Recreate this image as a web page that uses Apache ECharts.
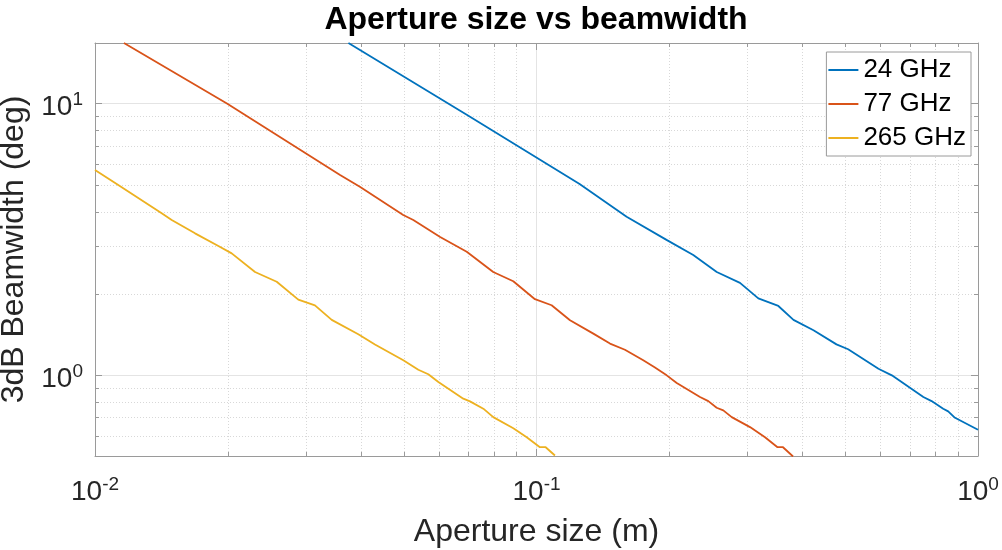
<!DOCTYPE html>
<html>
<head>
<meta charset="utf-8">
<title>Aperture size vs beamwidth</title>
<script src="https://cdn.jsdelivr.net/npm/echarts@6/dist/echarts.min.js"></script>
<style>
    html, body { margin: 0; padding: 0; background: #fff; }
    #main { width: 1002px; height: 550px; }
</style>
</head>
<body>
<div id="main"></div>
<script>
// aperture size (m) and 3dB beamwidth (deg)
var size24 = [0.0375, 0.0695, 0.1252, 0.160, 0.197, 0.2265, 0.256, 0.289, 0.318, 0.353, 0.382, 0.424, 0.478, 0.508, 0.595, 0.638, 0.752, 0.785, 0.834, 0.856, 0.887, 1.0];
var bw24 = [16.7, 9.09, 5.06, 3.83, 3.15, 2.77, 2.40, 2.19, 1.92, 1.80, 1.60, 1.465, 1.30, 1.247, 1.058, 1.0, 0.832, 0.804, 0.754, 0.737, 0.698, 0.631];

var size77 = [0.01163, 0.0199, 0.0359, 0.0398, 0.0499, 0.0526, 0.0605, 0.0695, 0.0798, 0.0886, 0.0992, 0.1082, 0.1191, 0.1345, 0.1467, 0.1586, 0.1745, 0.1855, 0.1972, 0.2078, 0.2346, 0.2450, 0.2559, 0.2649, 0.2768, 0.3045, 0.3293, 0.3515, 0.3617, 0.3811];
var bw77 = [16.7, 10.0, 5.46, 4.94, 3.89, 3.73, 3.23, 2.85, 2.40, 2.22, 1.906, 1.811, 1.595, 1.424, 1.309, 1.242, 1.136, 1.068, 1.0, 0.937, 0.832, 0.804, 0.760, 0.743, 0.702, 0.645, 0.592, 0.544, 0.544, 0.503];

var size265 = [0.0100, 0.01129, 0.01416, 0.01492, 0.01685, 0.01903, 0.0204, 0.02304, 0.0258, 0.02887, 0.03149, 0.03437, 0.03948, 0.04306, 0.04993, 0.05399, 0.05688, 0.05994, 0.06826, 0.07069, 0.07578, 0.07981, 0.08861, 0.09502, 0.1018, 0.1049, 0.1101];
var bw265 = [5.70, 5.02, 3.95, 3.73, 3.33, 2.99, 2.81, 2.40, 2.21, 1.90, 1.81, 1.60, 1.416, 1.298, 1.136, 1.049, 1.009, 0.945, 0.821, 0.802, 0.754, 0.702, 0.639, 0.592, 0.544, 0.544, 0.507];

var seriesNames = ['24 GHz', '77 GHz', '265 GHz'];
var seriesColors = ['#0072BD', '#D95319', '#EDB120'];

var xRange = [0.01, 1];
var yRange = [0.505, 16.7];
// minor (unlabelled) log ticks
var xMinor = [0.02, 0.03, 0.04, 0.05, 0.06, 0.07, 0.08, 0.09, 0.2, 0.3, 0.4, 0.5, 0.6, 0.7, 0.8, 0.9];
var yMinor = [0.6, 0.7, 0.8, 0.9, 2, 3, 4, 5, 6, 7, 8, 9];

var FONT = '"Liberation Sans", Arial, Helvetica, sans-serif';
var AXIS = '#9a9a9a';
var TEXT = '#262626';

var chart = echarts.init(document.getElementById('main'));

function pairs(xs, ys) {
    return xs.map(function(x, i) { return [x, ys[i]]; });
}

// only decades get a label, as 10^n
function decadeLabel(v) {
    var e = Math.log10(v);
    if (Math.abs(e - Math.round(e)) > 1e-6) {
        return '';
    }
    return '{b|10}{s|' + Math.round(e) + '}';
}

var labelRich = {
    b: { fontFamily: FONT, fontSize: 28, lineHeight: 34, color: TEXT },
    s: { fontFamily: FONT, fontSize: 19, lineHeight: 19, verticalAlign: 'top', color: TEXT }
};

function makeAxis(range, pos, labelled) {
    return {
        type: 'log',
        logBase: 10,
        min: range[0],
        max: range[1],
        position: pos,
        axisLine: { show: true, lineStyle: { color: AXIS, width: 1 } },
        axisTick: { show: true, inside: true, length: 7, lineStyle: { color: AXIS } },
        minorTick: { show: false },
        minorSplitLine: { show: false },
        axisLabel: labelled ? {
            show: true,
            formatter: decadeLabel,
            rich: labelRich,
            margin: 19
        } : { show: false },
        splitLine: { show: labelled, lineStyle: { color: '#e4e4e4', width: 1 } }
    };
}

var xBottom = makeAxis(xRange, 'bottom', true);
xBottom.name = 'Aperture size (m)';
xBottom.nameLocation = 'middle';
xBottom.nameGap = 60;
xBottom.nameTextStyle = { fontFamily: FONT, fontSize: 32, color: TEXT };

var yLeft = makeAxis(yRange, 'left', true);
yLeft.name = '3dB Beamwidth (deg)';
yLeft.nameLocation = 'middle';
yLeft.nameGap = 55;
yLeft.nameTextStyle = { fontFamily: FONT, fontSize: 32, color: TEXT };
yLeft.axisLabel.margin = 12;
yLeft.axisLabel.padding = [8, 0, 0, 0];

var allSizes = [size24, size77, size265];
var allBw = [bw24, bw77, bw265];

var series = seriesNames.map(function(name, i) {
    return {
        name: name,
        type: 'line',
        xAxisIndex: 0,
        yAxisIndex: 0,
        data: pairs(allSizes[i], allBw[i]),
        showSymbol: false,
        symbol: 'none',
        clip: true,
        lineStyle: { width: 1.8, color: seriesColors[i] },
        itemStyle: { color: seriesColors[i] }
    };
});

var option = {
    animation: false,
    backgroundColor: '#fff',
    title: {
        text: 'Aperture size vs beamwidth',
        left: 536,
        top: 4,
        padding: 0,
        textAlign: 'center',
        textStyle: { fontFamily: FONT, fontSize: 32, fontWeight: 'bold', color: '#000' }
    },
    legend: {
        orient: 'vertical',
        right: 31,
        top: 52,
        padding: [1, 5, 1, 2],
        icon: 'rect',
        itemWidth: 30,
        itemHeight: 2,
        itemGap: 0,
        backgroundColor: '#fff',
        borderColor: AXIS,
        borderWidth: 1,
        borderRadius: 0,
        textStyle: { fontFamily: FONT, fontSize: 26, lineHeight: 34, color: '#000' },
        data: seriesNames
    },
    grid: {
        left: 95,
        right: 24,
        top: 43,
        bottom: 94,
        containLabel: false,
        outerBoundsMode: 'none'
    },
    xAxis: [xBottom, makeAxis(xRange, 'top', false)],
    yAxis: [yLeft, makeAxis(yRange, 'right', false)],
    series: series
};

chart.setOption(option);

// dotted minor grid and short minor ticks on all four sides
function toPx(x, y) {
    return chart.convertToPixel({ seriesIndex: 0 }, [x, y]);
}
var lo = toPx(xRange[0], yRange[0]);
var hi = toPx(xRange[1], yRange[1]);
var gl = lo[0], gb = lo[1], gr = hi[0], gt = hi[1];
var els = [];

function seg(x1, y1, x2, y2, color, dash, z) {
    els.push({
        type: 'line',
        silent: true,
        z: z,
        shape: { x1: x1, y1: y1, x2: x2, y2: y2 },
        style: { stroke: color, lineWidth: 1, lineDash: dash }
    });
}

xMinor.forEach(function(v) {
    var x = Math.round(toPx(v, 1)[0]) + 0.5;
    seg(x, gt, x, gb, '#d8d8d8', [1, 2], 1);
    seg(x, gb, x, gb - 4, AXIS, null, 3);
    seg(x, gt, x, gt + 4, AXIS, null, 3);
});
yMinor.forEach(function(v) {
    var y = Math.round(toPx(0.1, v)[1]) + 0.5;
    seg(gl, y, gr, y, '#d8d8d8', [1, 2], 1);
    seg(gl, y, gl + 4, y, AXIS, null, 3);
    seg(gr, y, gr - 4, y, AXIS, null, 3);
});

chart.setOption({ graphic: { elements: els } });
</script>
</body>
</html>
